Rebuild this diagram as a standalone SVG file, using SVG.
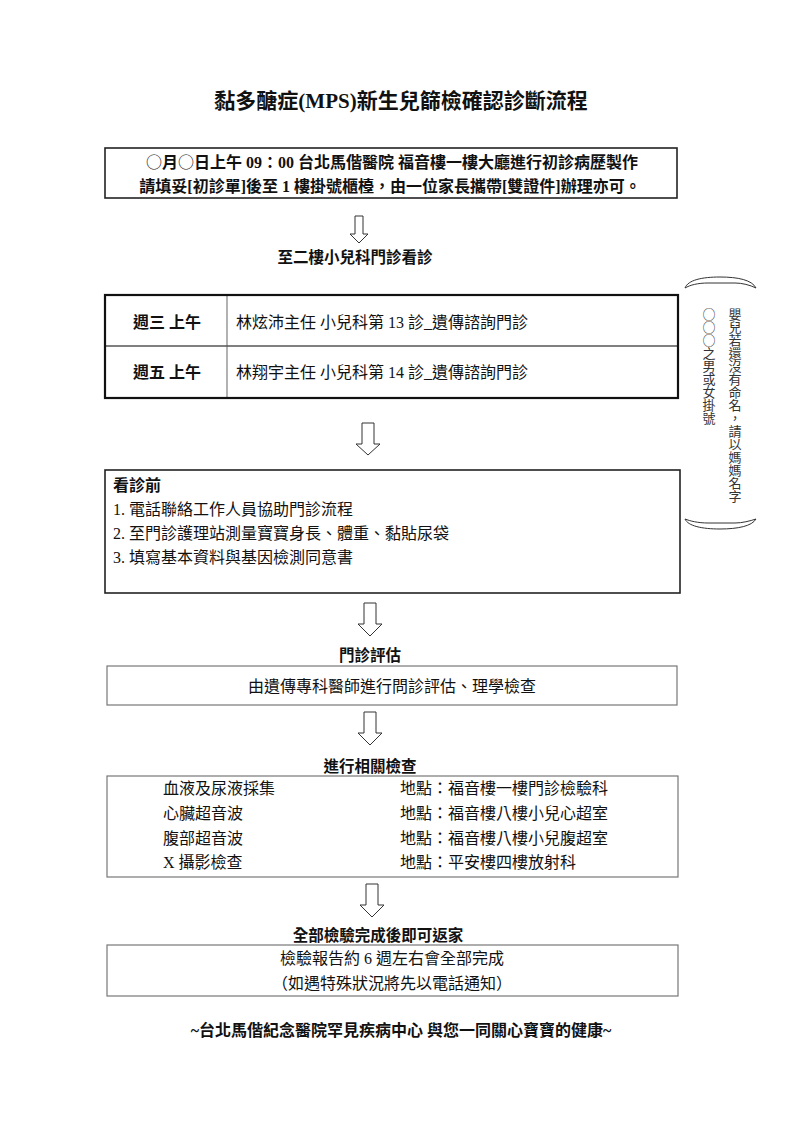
<svg xmlns="http://www.w3.org/2000/svg" width="794" height="1123" viewBox="0 0 794 1123">
<style>
text{font-family:"Liberation Serif","Noto Sans CJK TC",serif;fill:#111;}
.t{font-size:21px;font-weight:bold;}
.b{font-size:16px;font-weight:bold;}
.lb{font-size:15.5px;font-weight:bold;}
.n{font-size:16px;}
.c{text-anchor:middle;}
.cjk{font-family:"Noto Sans CJK TC",sans-serif;}
.dark{fill:#fff;stroke:#222;stroke-width:1.6;}
.gray{fill:#fff;stroke:#777;stroke-width:1.2;}
.arr{fill:#fff;stroke:#333;stroke-width:1;}
.side{font-family:"Noto Sans CJK TC",sans-serif;font-size:13px;fill:#333;writing-mode:vertical-rl;}
.brace{fill:#fff;stroke:#333;stroke-width:1;}
</style>
<rect width="794" height="1123" fill="#fff"/>
<text class="t c" x="401" y="108">黏多醣症(MPS)新生兒篩檢確認診斷流程</text>

<g id="registration">
<rect class="dark" x="105" y="148" width="572" height="50"/>
<text class="b c" x="392" y="168"><tspan class="cjk" font-weight="normal">○</tspan>月<tspan class="cjk" font-weight="normal">○</tspan>日上午 09：00 台北馬偕醫院 福音樓一樓大廳進行初診病歷製作</text>
<text class="b c" x="390" y="192">請填妥[初診單]後至 1 樓掛號櫃檯，由一位家長攜帶[雙證件]辦理亦可。</text>
</g>

<g id="label-clinic">
<text class="lb c" x="355" y="263">至二樓小兒科門診看診</text>
</g>

<g id="schedule">
<line x1="227" y1="295" x2="227" y2="398" stroke="#999" stroke-width="1.5"/>
<line x1="105" y1="346" x2="678" y2="346" stroke="#555" stroke-width="1.5"/>
<rect x="105" y="295" width="573" height="103" fill="none" stroke="#111" stroke-width="2.2"/>
<text class="b" x="133" y="328">週三 上午</text>
<text class="n" x="236" y="328">林炫沛主任 小兒科第 13 診_遺傳諮詢門診</text>
<text class="b" x="133" y="378">週五 上午</text>
<text class="n" x="236" y="378">林翔宇主任 小兒科第 14 診_遺傳諮詢門診</text>
</g>

<g id="side-note">
<path class="brace" d="M685 288 C688 280 702 277 720 277 C738 277 752 280 756 288 C750 285 742 283 735 283 L708 283 C698 283 690 285 685 288 Z"/>
<path class="brace" d="M685 519 C688 526 702 529 720 529 C738 529 752 526 756 519 C750 521 742 523 735 523 L708 523 C698 523 690 521 685 519 Z"/>
<text class="side" x="735" y="308">嬰兒若還沒有命名，請以媽媽名字</text>
<text class="side" x="709" y="308">○○○之男或女掛號</text>
</g>

<g id="before-visit">
<rect class="dark" x="105" y="470" width="575" height="123"/>
<text class="b" x="113" y="491">看診前</text>
<text class="n" x="113" y="515">1.  電話聯絡工作人員協助門診流程</text>
<text class="n" x="113" y="539">2.  至門診護理站測量寶寶身長、體重、黏貼尿袋</text>
<text class="n" x="113" y="563">3.  填寫基本資料與基因檢測同意書</text>
</g>

<g id="assessment">
<text class="lb c" x="370" y="661">門診評估</text>
<rect class="gray" x="107" y="666" width="570" height="39"/>
<text class="n c" x="392" y="692">由遺傳專科醫師進行問診評估、理學檢查</text>
</g>

<g id="examinations">
<text class="lb c" x="370" y="772">進行相關檢查</text>
<rect class="gray" x="107" y="776" width="571" height="101"/>
<text class="n" x="163" y="794">血液及尿液採集</text>
<text class="n" x="400" y="794">地點：福音樓一樓門診檢驗科</text>
<text class="n" x="163" y="819">心臟超音波</text>
<text class="n" x="400" y="819">地點：福音樓八樓小兒心超室</text>
<text class="n" x="163" y="844">腹部超音波</text>
<text class="n" x="400" y="844">地點：福音樓八樓小兒腹超室</text>
<text class="n" x="163" y="868">X 攝影檢查</text>
<text class="n" x="400" y="868">地點：平安樓四樓放射科</text>
</g>

<g id="finish">
<text class="lb c" x="378" y="941">全部檢驗完成後即可返家</text>
<rect class="gray" x="107" y="945" width="571" height="51"/>
<text class="n c" x="392" y="964">檢驗報告約 6 週左右會全部完成</text>
<text class="n c" x="392" y="989">（如遇特殊狀況將先以電話通知）</text>
</g>

<g id="footer">
<text class="b c" x="401" y="1036">~台北馬偕紀念醫院罕見疾病中心 與您一同關心寶寶的健康~</text>
</g>

<g id="connectors">
<path class="arr" d="M355 216 L363 216 L363 234 L368 234 L359 243 L350 234 L355 234 Z"/>
<path class="arr" d="M362 423 L374 423 L374 444 L380 444 L368 455 L356 444 L362 444 Z"/>
<path class="arr" d="M364 603 L376 603 L376 624 L382 624 L370 636 L358 624 L364 624 Z"/>
<path class="arr" d="M364 712 L376 712 L376 733 L382 733 L370 745 L358 733 L364 733 Z"/>
<path class="arr" d="M366 884 L378 884 L378 905 L384 905 L372 917 L360 905 L366 905 Z"/>
</g>
</svg>
